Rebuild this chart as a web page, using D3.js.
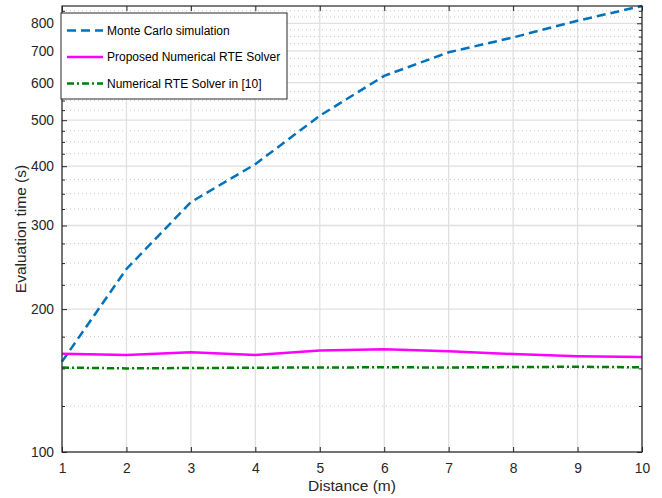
<!DOCTYPE html>
<html lang="en">
<head>
  <meta charset="UTF-8">
  <title>Evaluation time vs distance</title>
  <script src="https://d3js.org/d3.v7.min.js"></script>
  <style>
    body {
      margin: 0;
      background: #fff;
      font-family: Arial, "Liberation Sans", sans-serif;
    }
    svg { display: block; }
    .tick text { fill: #262626; font-size: 13.8px; }
    .axis-label { fill: #262626; font-size: 15.5px; }
    .legend text { fill: #000; font-size: 12px; }
  </style>
</head>
<body>
  <svg width="662" height="498"></svg>
  <script>
    // Data
    const distance = [1, 2, 3, 4, 5, 6, 7, 8, 9, 10];
    const monteCarlo = [155, 243, 336, 404, 511, 620, 695, 747, 810, 870];
    const proposedSolver = [161, 160, 162.3, 160, 163.6, 164.7, 163, 160.8, 159.2, 158.5];
    const solverRef10 = [150.6, 150.0, 150.3, 150.5, 150.7, 150.8, 150.7, 151.0, 151.2, 150.8];
    const yMajorTicks = [100, 200, 300, 400, 500, 600, 700, 800];
    const yMinorTicks = d3.range(125, 875, 25).filter(v => v % 100 !== 0);

    const series = [
      { name: "Monte Carlo simulation", values: monteCarlo, color: "#0072BD", dash: "9,5" },
      { name: "Proposed Numerical RTE Solver", values: proposedSolver, color: "#FF00FF", dash: null },
      { name: "Numerical RTE Solver in [10]", values: solverRef10, color: "#008000", dash: "7,3,2,3" }
    ];

    const margin = { top: 6, right: 20, bottom: 46, left: 62 };
    const width = 662 - margin.left - margin.right;
    const height = 498 - margin.top - margin.bottom;

    const svg = d3.select("svg")
      .append("g")
      .attr("transform", `translate(${margin.left}, ${margin.top})`);

    const x = d3.scaleLinear().domain([1, 10]).range([0, width]);
    const y = d3.scaleLog().domain([100, 870]).range([height, 0]);

    // Grid: minor dotted, major solid
    svg.append("g")
      .selectAll("line")
      .data(yMinorTicks)
      .enter().append("line")
      .attr("x1", 0).attr("x2", width)
      .attr("y1", d => y(d)).attr("y2", d => y(d))
      .attr("stroke", "#c8c8c8")
      .attr("stroke-width", 1)
      .attr("stroke-dasharray", "1,3");

    svg.append("g")
      .selectAll("line")
      .data(yMajorTicks)
      .enter().append("line")
      .attr("x1", 0).attr("x2", width)
      .attr("y1", d => y(d)).attr("y2", d => y(d))
      .attr("stroke", "#e0e0e0")
      .attr("stroke-width", 1.3);

    svg.append("g")
      .selectAll("line")
      .data(distance)
      .enter().append("line")
      .attr("x1", d => x(d)).attr("x2", d => x(d))
      .attr("y1", 0).attr("y2", height)
      .attr("stroke", "#e0e0e0")
      .attr("stroke-width", 1.3);

    // Lines
    const line = d3.line();
    series.forEach(s => {
      svg.append("path")
        .datum(distance.map((d, i) => [x(d), y(s.values[i])]))
        .attr("fill", "none")
        .attr("stroke", s.color)
        .attr("stroke-width", 2.5)
        .attr("stroke-dasharray", s.dash)
        .attr("d", line);
    });

    // Axes (box with inward ticks)
    const axisColor = "#262626";
    svg.append("g")
      .attr("transform", `translate(0, ${height})`)
      .call(d3.axisBottom(x).tickValues(distance).tickFormat(d3.format("d")).tickSizeInner(-5).tickSizeOuter(0).tickPadding(11));
    svg.append("g")
      .call(d3.axisTop(x).tickValues(distance).tickFormat("").tickSizeInner(-5).tickSizeOuter(0));
    svg.append("g")
      .call(d3.axisLeft(y).tickValues(yMajorTicks).tickFormat(d3.format("d")).tickSizeInner(-5).tickSizeOuter(0).tickPadding(8));
    svg.append("g")
      .attr("transform", `translate(${width}, 0)`)
      .call(d3.axisRight(y).tickValues(yMajorTicks).tickFormat("").tickSizeInner(-5).tickSizeOuter(0));
    svg.append("g")
      .call(d3.axisLeft(y).tickValues(yMinorTicks).tickFormat("").tickSizeInner(-3).tickSizeOuter(0));
    svg.append("g")
      .attr("transform", `translate(${width}, 0)`)
      .call(d3.axisRight(y).tickValues(yMinorTicks).tickFormat("").tickSizeInner(-3).tickSizeOuter(0));

    svg.selectAll(".domain").remove();
    svg.selectAll(".tick line").attr("stroke", axisColor);
    svg.selectAll(".tick text").attr("font-family", "Arial, 'Liberation Sans', sans-serif");

    svg.append("rect")
      .attr("width", width).attr("height", height)
      .attr("fill", "none")
      .attr("stroke", axisColor)
      .attr("stroke-width", 1.2);

    // Axis labels
    svg.append("text")
      .attr("class", "axis-label")
      .attr("x", width / 2)
      .attr("y", height + 39)
      .attr("text-anchor", "middle")
      .text("Distance (m)");

    svg.append("text")
      .attr("class", "axis-label")
      .attr("transform", `translate(-36, ${height / 2}) rotate(-90)`)
      .attr("text-anchor", "middle")
      .text("Evaluation time (s)");

    // Legend
    const legend = svg.append("g")
      .attr("class", "legend")
      .attr("transform", "translate(-1, 7)");

    legend.append("rect")
      .attr("width", 226).attr("height", 86)
      .attr("fill", "#fff")
      .attr("stroke", axisColor)
      .attr("stroke-width", 1);

    series.forEach((s, i) => {
      const ly = 17.5 + i * 26.5;
      legend.append("line")
        .attr("x1", 6).attr("x2", 42)
        .attr("y1", ly).attr("y2", ly)
        .attr("stroke", s.color)
        .attr("stroke-width", 2.5)
        .attr("stroke-dasharray", s.dash);
      legend.append("text")
        .attr("x", 46)
        .attr("y", ly)
        .attr("dy", "0.35em")
        .text(s.name);
    });
  </script>
</body>
</html>
